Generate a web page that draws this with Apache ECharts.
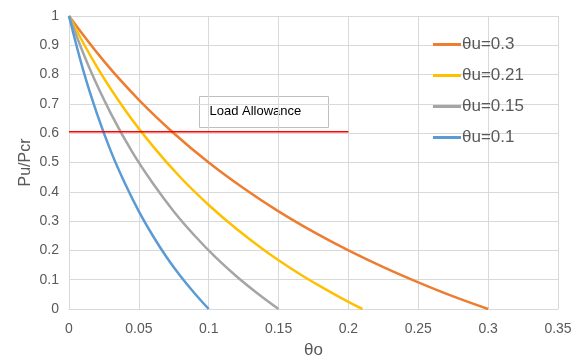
<!DOCTYPE html>
<html><head><meta charset="utf-8">
<script src="https://cdn.jsdelivr.net/npm/echarts@6/dist/echarts.min.js"></script>
<style>html,body{margin:0;padding:0;background:#fff}#c{width:581px;height:358px}</style>
</head><body><div id="c"></div>
<script>
// Data
var seriesNames = ['θu=0.3', 'θu=0.21', 'θu=0.15', 'θu=0.1'];
var x03 = [0, 0.025, 0.05, 0.075, 0.1, 0.125, 0.15, 0.175, 0.2, 0.225, 0.25, 0.275, 0.3];
var y03 = [1, 0.846, 0.714, 0.6, 0.5, 0.412, 0.333, 0.263, 0.2, 0.143, 0.091, 0.043, 0];
var x021 = [0, 0.02, 0.04, 0.06, 0.08, 0.1, 0.12, 0.14, 0.16, 0.18, 0.2, 0.21];
var y021 = [1, 0.826, 0.68, 0.556, 0.448, 0.355, 0.273, 0.2, 0.135, 0.077, 0.024, 0];
var x015 = [0, 0.015, 0.03, 0.045, 0.06, 0.075, 0.09, 0.105, 0.12, 0.135, 0.15];
var y015 = [1, 0.818, 0.667, 0.538, 0.429, 0.333, 0.25, 0.176, 0.111, 0.053, 0];
var x01 = [0, 0.01, 0.02, 0.03, 0.04, 0.05, 0.06, 0.07, 0.08, 0.09, 0.1];
var y01 = [1, 0.818, 0.667, 0.538, 0.429, 0.333, 0.25, 0.176, 0.111, 0.053, 0];
var allowanceX = [0, 0.2];
var allowanceY = [0.605, 0.605];
var allowanceText = 'Load Allowance';
var xTicks = [0, 0.05, 0.1, 0.15, 0.2, 0.25, 0.3, 0.35];
var yTicks = [0, 0.1, 0.2, 0.3, 0.4, 0.5, 0.6, 0.7, 0.8, 0.9, 1];

function pairs(xs, ys) { return xs.map(function (v, i) { return [v, ys[i]]; }); }
var colors = ['#ED7D31', '#FFC000', '#A5A5A5', '#5B9BD5'];
var xsAll = [x03, x021, x015, x01], ysAll = [y03, y021, y015, y01];
var font = 'Liberation Sans';

var chart = echarts.init(document.getElementById('c'), null, {renderer: 'canvas'});
var series = seriesNames.map(function (n, i) {
  return {
    name: n, type: 'line', smooth: 0.4, showSymbol: false, symbol: 'none',
    data: pairs(xsAll[i], ysAll[i]),
    lineStyle: {width: 2.5, color: colors[i]}, itemStyle: {color: colors[i]},
    z: 3
  };
});
series.push({
  name: 'allowance', type: 'line', showSymbol: false, symbol: 'none',
  data: pairs(allowanceX, allowanceY),
  lineStyle: {width: 1.5, color: '#FF0000'}, z: 4, silent: true
});
chart.setOption({
  animation: false,
  textStyle: {fontFamily: font},
  grid: {left: 69, right: 23, top: 16, bottom: 49, containLabel: false, outerBoundsMode: 'none'},
  legend: {
    data: seriesNames, orient: 'vertical', left: 428, top: 31,
    itemWidth: 28, itemHeight: 3, itemGap: 14, icon: 'rect',
    textStyle: {fontSize: 17, color: '#595959', fontFamily: font, padding: [0, 0, 0, -4]}
  },
  xAxis: {
    type: 'value', min: 0, max: 0.35, interval: 0.05,
    name: 'θo', nameLocation: 'middle', nameGap: 33, nameMoveOverlap: false,
    nameTextStyle: {fontSize: 17, color: '#595959'},
    axisLine: {show: true, lineStyle: {color: '#d9d9d9'}},
    axisTick: {show: false},
    axisLabel: {fontSize: 14, color: '#595959', margin: 13,
      formatter: function (v) { var t = xTicks.find(function (k) { return Math.abs(k - v) < 1e-9; }); return t === undefined ? '' : String(t); }},
    splitLine: {show: true, lineStyle: {color: '#d9d9d9'}}
  },
  yAxis: {
    type: 'value', min: 0, max: 1, interval: 0.1,
    name: 'Pu/Pcr', nameLocation: 'middle', nameGap: 35, nameMoveOverlap: false,
    nameTextStyle: {fontSize: 16, color: '#595959'},
    axisLine: {show: true, lineStyle: {color: '#d9d9d9'}},
    axisTick: {show: false},
    axisLabel: {fontSize: 14, color: '#595959', margin: 10,
      formatter: function (v) { var t = yTicks.find(function (k) { return Math.abs(k - v) < 1e-9; }); return t === undefined ? '' : String(t); }},
    splitLine: {show: true, lineStyle: {color: '#d9d9d9'}}
  },
  graphic: [{
    type: 'group', left: 199, top: 96, z: 10,
    children: [
      {type: 'rect', shape: {x: 0, y: 0, width: 129, height: 31},
       style: {fill: '#fff', stroke: '#bfbfbf', lineWidth: 1}},
      {type: 'text', left: 10, top: 8,
       style: {text: allowanceText, fill: '#000', font: '13px "Liberation Sans"'}}
    ]
  }],
  series: series
});
</script></body></html>
